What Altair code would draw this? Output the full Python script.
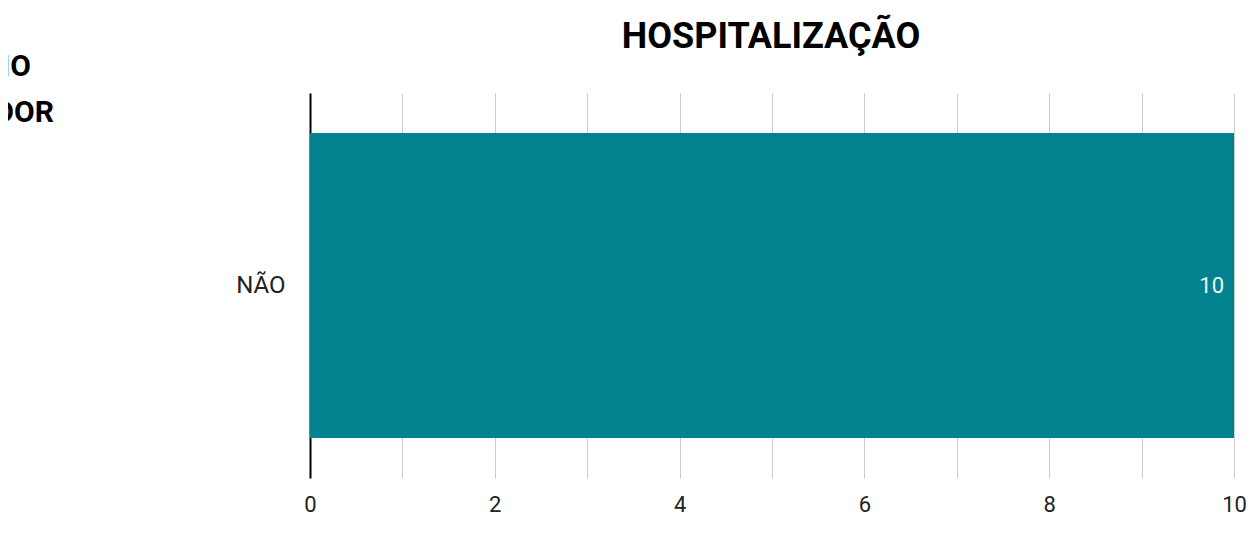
import altair as alt
import pandas as pd

categories = ["NÃO"]
values = [10]
tick_values = [0, 1, 2, 3, 4, 5, 6, 7, 8, 9, 10]
title_text = ["HOSPITALIZAÇÃO"]
side_lines = ["IO", "DOR"]

df = pd.DataFrame({"cat": categories, "val": values})

x_enc = alt.X(
    "val:Q",
    scale=alt.Scale(domain=[0, 10], nice=False, zero=True),
    axis=alt.Axis(
        values=tick_values,
        format="d",
        labelExpr="datum.value % 2 === 0 ? datum.label : ''",
        labelFlush=False,
        grid=True,
        gridColor="#cccccc",
        gridWidth=1,
        domain=False,
        ticks=False,
        labelFontSize=22,
        labelFont="Roboto",
        labelColor="#222222",
        labelPadding=16,
        title=None,
    ),
)
y_enc = alt.Y(
    "cat:N",
    scale=alt.Scale(paddingInner=0.208, paddingOuter=0.104),
    axis=alt.Axis(
        domain=True,
        domainColor="#000000",
        domainWidth=2,
        ticks=False,
        grid=False,
        labelFontSize=24,
        labelFont="Roboto",
        labelColor="#222222",
        labelPadding=25,
        title=None,
    ),
)

bars = alt.Chart(df).mark_bar(color="#00838F").encode(x=x_enc, y=y_enc)

labels = alt.Chart(df).mark_text(
    align="right", baseline="middle", dx=-10, fontSize=22, font="Roboto", color="#f2f2f2"
).encode(x="val:Q", y="cat:N", text="val:Q")

side_df = pd.DataFrame({"t": side_lines, "xx": [-279, -256], "yy": [76 - 93, 122 - 93]})
side = alt.Chart(side_df).mark_text(
    align="right", baseline="alphabetic", fontSize=30, fontWeight="bold", font="Roboto", color="#000000"
).encode(
    x=alt.X("xx:Q", scale=None),
    y=alt.Y("yy:Q", scale=None),
    text="t:N",
)

title_df = pd.DataFrame({"t": title_text, "xx": [461], "yy": [48 - 93]})
title = alt.Chart(title_df).mark_text(
    align="center", baseline="alphabetic", fontSize=36, fontWeight="bold", font="Roboto", color="#000000"
).encode(
    x=alt.X("xx:Q", scale=None),
    y=alt.Y("yy:Q", scale=None),
    text="t:N",
)

chart = alt.layer(bars, labels, side, title).properties(
    width=924,
    height=385,
    autosize=alt.AutoSizeParams(type="none"),
    padding={"left": 302, "top": 85, "right": 13, "bottom": 40},
).configure_view(stroke=None)

chart.save("out.html", embed_options={"renderer": "svg", "actions": False})
